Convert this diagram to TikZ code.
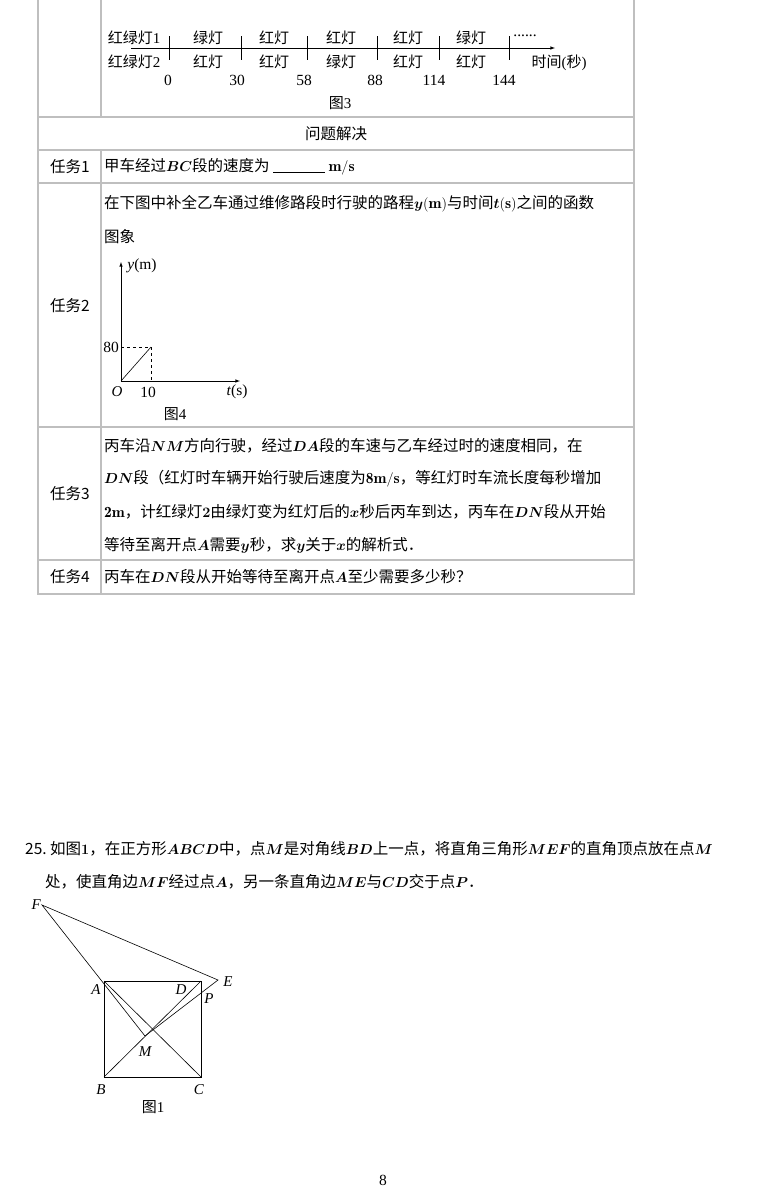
\documentclass[tikz,border=0pt]{standalone}
\usepackage{fontspec}
\usepackage{amsmath}
\newfontfamily\cjk{Noto Sans CJK SC}
\newfontfamily\tms{Liberation Serif}
\newcommand{\mv}[1]{{\boldmath$#1$}}
\begin{document}
\begin{tikzpicture}[x=1pt,y=-1pt,
    grid/.style={draw=black!25, line width=1.2pt},
    txt/.style={font=\fontsize{15.5}{17}\selectfont\cjk, anchor=west, inner sep=0pt},
    lab/.style={font=\fontsize{15}{16}\selectfont\cjk, inner sep=0pt},
    fig/.style={font=\fontsize{15.5}{16}\selectfont\tms, inner sep=0pt},
    pt/.style={font=\fontsize{15}{16}\selectfont\tms\itshape, inner sep=0pt},
    axis/.style={-latex, semithick},
    seg/.style={semithick}
]
\useasboundingbox (0,0) rectangle (780,1197);

% table frame
\draw[grid] (38,0) -- (38,594) -- (634,594) -- (634,0);
\draw[grid] (101,0) -- (101,117);
\draw[grid] (101,150) -- (101,594);
\foreach \yy in {117,150,183,427,560}
  \draw[grid] (38,\yy) -- (634,\yy);

% figure 3
\coordinate (t0) at (131,48);
\coordinate (t1) at (555,48);
\draw[axis] (t0) -- (t1);
\foreach \xx in {169,241,307,377,439,509}
  \draw[seg] (\xx,36) -- (\xx,60);
\node[lab] (g1) at (134,38) {红绿灯\tms 1};
\node[lab] (g2) at (134,62) {红绿灯\tms 2};
\foreach \xx/\tt in {208/绿灯,274/红灯,341/红灯,408/红灯,471/绿灯}
  \node[lab] at (\xx,38) {\tt};
\node[fig] (dots) at (525,36) {......};
\foreach \xx/\tt in {208/红灯,274/红灯,341/绿灯,408/红灯,471/红灯}
  \node[lab] at (\xx,62) {\tt};
\node[lab] (unit) at (559,63) {时间\tms(\cjk 秒\tms)};
\foreach \xx/\nn in {168/0,237/30,304/58,375/88,434/114,504/144}
  \node[fig] at (\xx,80) {\nn};
\node[lab] (cap3) at (340,103) {图\tms 3};

% rows
\node[txt, anchor=center] (head) at (336,134) {问题解决};
\node[txt, anchor=center] (task1) at (70,167) {任务1};
\node[txt] (row1) at (104,167) {甲车经过\mv{BC}段的速度为 \rule[-1pt]{52pt}{1pt} $\mathbf{m/s}$};
\node[txt, anchor=center] (task2) at (70,306) {任务2};
\node[txt] (row2a) at (104,204) {在下图中补全乙车通过维修路段时行驶的路程\mv{y}$\mathbf{(m)}$与时间\mv{t}$\mathbf{(s)}$之间的函数};
\node[txt] (row2b) at (104,237) {图象};

% figure 4
\coordinate (O) at (121,381);
\coordinate (ytip) at (121,262);
\coordinate (xtip) at (240,381);
\coordinate (Q) at (151,347);
\draw[axis] (O) -- (ytip);
\draw[axis] (O) -- (xtip);
\draw[seg] (O) -- (Q);
\draw[seg, dashed] (121,347) -- (Q) -- (151,381);
\node[fig] (ylab) at (142,266) {\textit{y}(m)};
\node[fig] (v80) at (111,347) {80};
\node[pt] (olab) at (117,392) {O};
\node[fig] (v10) at (148,392) {10};
\node[fig] (tlab) at (237,392) {\textit{t}(s)};
\node[lab] (cap4) at (175,414) {图\tms 4};

\node[txt, anchor=center] (task3) at (70,494) {任务3};
\node[txt] (row3a) at (104,446) {丙车沿\mv{NM}方向行驶，经过\mv{DA}段的车速与乙车经过时的速度相同，在};
\node[txt] (row3b) at (104,479) {\mv{DN}段（红灯时车辆开始行驶后速度为$\mathbf{8m/s}$，等红灯时车流长度每秒增加};
\node[txt] (row3c) at (104,512) {$\mathbf{2m}$，计红绿灯\mv{2}由绿灯变为红灯后的\mv{x}秒后丙车到达，丙车在\mv{DN}段从开始};
\node[txt] (row3d) at (104,545) {等待至离开点\mv{A}需要\mv{y}秒，求\mv{y}关于\mv{x}的解析式．};
\node[txt, anchor=center] (task4) at (70,577) {任务4};
\node[txt] (row4) at (104,577) {丙车在\mv{DN}段从开始等待至离开点\mv{A}至少需要多少秒？};

% problem 25
\node[txt] (q25a) at (25,849) {25.\ 如图\mv{1}，在正方形\mv{ABCD}中，点\mv{M}是对角线\mv{BD}上一点，将直角三角形\mv{MEF}的直角顶点放在点\mv{M}};
\node[txt] (q25b) at (45,882) {处，使直角边\mv{MF}经过点\mv{A}，另一条直角边\mv{ME}与\mv{CD}交于点\mv{P}．};

% figure 1
\coordinate (F) at (42,905);
\coordinate (A) at (104,981);
\coordinate (D) at (201,981);
\coordinate (B) at (104,1077);
\coordinate (C) at (201,1077);
\coordinate (M) at (145,1036);
\coordinate (E) at (218,980);
\draw[seg] (A) -- (D) -- (C) -- (B) -- cycle;
\draw[seg] (B) -- (D);
\draw[seg] (A) -- (C);
\draw[seg] (F) -- (M) -- (E) -- cycle;
\node[pt] (lF) at (41,905) [anchor=east] {F};
\node[pt] (lA) at (96,990) {A};
\node[pt] (lD) at (181,990) {D};
\node[pt] (lE) at (228,982) {E};
\node[pt] (lP) at (209,999) {P};
\node[pt] (lM) at (145,1052) {M};
\node[pt] (lB) at (101,1090) {B};
\node[pt] (lC) at (199,1090) {C};
\node[lab] (cap1) at (153,1107) {图\tms 1};

\node[fig] (page) at (383,1180) {8};
\end{tikzpicture}
\end{document}
